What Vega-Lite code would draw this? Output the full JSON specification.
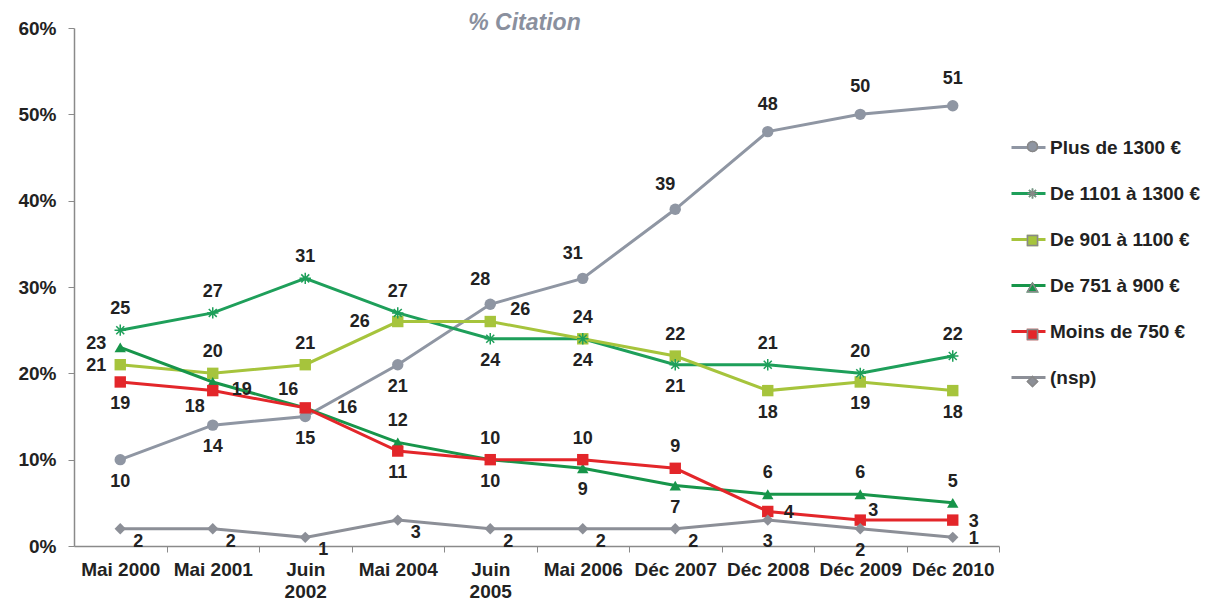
{
  "$schema": "https://vega.github.io/schema/vega-lite/v6.json",
  "width": 925,
  "height": 518,
  "autosize": "none",
  "padding": {"left": 74, "top": 28, "right": 215, "bottom": 58},
  "background": "white",
  "config": {"font": "Liberation Sans", "view": {"stroke": null}},
  "title": {"text": "% Citation", "fontStyle": "italic", "fontWeight": "bold", "fontSize": 23, "color": "#8a909e", "anchor": "middle", "frame": "group", "offset": -16, "dx": -12},
  "data": {"values": [
    {"date": "Mai 2000", "serie": "Plus de 1300 €", "value": 10},
    {"date": "Mai 2001", "serie": "Plus de 1300 €", "value": 14},
    {"date": "Juin 2002", "serie": "Plus de 1300 €", "value": 15},
    {"date": "Mai 2004", "serie": "Plus de 1300 €", "value": 21},
    {"date": "Juin 2005", "serie": "Plus de 1300 €", "value": 28},
    {"date": "Mai 2006", "serie": "Plus de 1300 €", "value": 31},
    {"date": "Déc 2007", "serie": "Plus de 1300 €", "value": 39},
    {"date": "Déc 2008", "serie": "Plus de 1300 €", "value": 48},
    {"date": "Déc 2009", "serie": "Plus de 1300 €", "value": 50},
    {"date": "Déc 2010", "serie": "Plus de 1300 €", "value": 51},
    {"date": "Mai 2000", "serie": "De 1101 à 1300 €", "value": 25},
    {"date": "Mai 2001", "serie": "De 1101 à 1300 €", "value": 27},
    {"date": "Juin 2002", "serie": "De 1101 à 1300 €", "value": 31},
    {"date": "Mai 2004", "serie": "De 1101 à 1300 €", "value": 27},
    {"date": "Juin 2005", "serie": "De 1101 à 1300 €", "value": 24},
    {"date": "Mai 2006", "serie": "De 1101 à 1300 €", "value": 24},
    {"date": "Déc 2007", "serie": "De 1101 à 1300 €", "value": 21},
    {"date": "Déc 2008", "serie": "De 1101 à 1300 €", "value": 21},
    {"date": "Déc 2009", "serie": "De 1101 à 1300 €", "value": 20},
    {"date": "Déc 2010", "serie": "De 1101 à 1300 €", "value": 22},
    {"date": "Mai 2000", "serie": "De 901 à 1100 €", "value": 21},
    {"date": "Mai 2001", "serie": "De 901 à 1100 €", "value": 20},
    {"date": "Juin 2002", "serie": "De 901 à 1100 €", "value": 21},
    {"date": "Mai 2004", "serie": "De 901 à 1100 €", "value": 26},
    {"date": "Juin 2005", "serie": "De 901 à 1100 €", "value": 26},
    {"date": "Mai 2006", "serie": "De 901 à 1100 €", "value": 24},
    {"date": "Déc 2007", "serie": "De 901 à 1100 €", "value": 22},
    {"date": "Déc 2008", "serie": "De 901 à 1100 €", "value": 18},
    {"date": "Déc 2009", "serie": "De 901 à 1100 €", "value": 19},
    {"date": "Déc 2010", "serie": "De 901 à 1100 €", "value": 18},
    {"date": "Mai 2000", "serie": "De 751 à 900 €", "value": 23},
    {"date": "Mai 2001", "serie": "De 751 à 900 €", "value": 19},
    {"date": "Juin 2002", "serie": "De 751 à 900 €", "value": 16},
    {"date": "Mai 2004", "serie": "De 751 à 900 €", "value": 12},
    {"date": "Juin 2005", "serie": "De 751 à 900 €", "value": 10},
    {"date": "Mai 2006", "serie": "De 751 à 900 €", "value": 9},
    {"date": "Déc 2007", "serie": "De 751 à 900 €", "value": 7},
    {"date": "Déc 2008", "serie": "De 751 à 900 €", "value": 6},
    {"date": "Déc 2009", "serie": "De 751 à 900 €", "value": 6},
    {"date": "Déc 2010", "serie": "De 751 à 900 €", "value": 5},
    {"date": "Mai 2000", "serie": "Moins de 750 €", "value": 19},
    {"date": "Mai 2001", "serie": "Moins de 750 €", "value": 18},
    {"date": "Juin 2002", "serie": "Moins de 750 €", "value": 16},
    {"date": "Mai 2004", "serie": "Moins de 750 €", "value": 11},
    {"date": "Juin 2005", "serie": "Moins de 750 €", "value": 10},
    {"date": "Mai 2006", "serie": "Moins de 750 €", "value": 10},
    {"date": "Déc 2007", "serie": "Moins de 750 €", "value": 9},
    {"date": "Déc 2008", "serie": "Moins de 750 €", "value": 4},
    {"date": "Déc 2009", "serie": "Moins de 750 €", "value": 3},
    {"date": "Déc 2010", "serie": "Moins de 750 €", "value": 3},
    {"date": "Mai 2000", "serie": "(nsp)", "value": 2},
    {"date": "Mai 2001", "serie": "(nsp)", "value": 2},
    {"date": "Juin 2002", "serie": "(nsp)", "value": 1},
    {"date": "Mai 2004", "serie": "(nsp)", "value": 3},
    {"date": "Juin 2005", "serie": "(nsp)", "value": 2},
    {"date": "Mai 2006", "serie": "(nsp)", "value": 2},
    {"date": "Déc 2007", "serie": "(nsp)", "value": 2},
    {"date": "Déc 2008", "serie": "(nsp)", "value": 3},
    {"date": "Déc 2009", "serie": "(nsp)", "value": 2},
    {"date": "Déc 2010", "serie": "(nsp)", "value": 1}
  ]},
  "encoding": {
    "x": {"field": "date", "type": "ordinal",
      "sort": ["Mai 2000", "Mai 2001", "Juin 2002", "Mai 2004", "Juin 2005", "Mai 2006", "Déc 2007", "Déc 2008", "Déc 2009", "Déc 2010"],
      "scale": {"type": "point", "padding": 0.5},
      "axis": {"title": null, "labelAngle": 0, "labelFontSize": 19, "labelFontWeight": "bold", "labelColor": "#222222",
        "domainColor": "#8a8a8a", "domainWidth": 1.5, "tickColor": "#8a8a8a", "tickSize": 6, "tickOffset": 46.25, "labelOffset": -46.25,
        "labelPadding": 8, "labelLineHeight": 22, "labelBaseline": "top",
        "labelExpr": "indexof(datum.label, 'Juin') == 0 ? split(datum.label, ' ') : datum.label"}},
    "y": {"field": "value", "type": "quantitative",
      "scale": {"domain": [0, 60], "nice": false, "zero": true},
      "axis": {"title": null, "values": [0, 10, 20, 30, 40, 50, 60], "labelExpr": "datum.value + '%'", "grid": false,
        "labelFontSize": 19, "labelFontWeight": "bold", "labelColor": "#222222", "domainColor": "#8a8a8a", "domainWidth": 1.5,
        "tickColor": "#8a8a8a", "tickSize": 6, "labelPadding": 12}}
  },
  "layer": [
    {"mark": {"type": "line", "strokeWidth": 3},
     "encoding": {"stroke": {"field": "serie", "type": "nominal",
       "scale": {"domain": ["Plus de 1300 €", "De 1101 à 1300 €", "De 901 à 1100 €", "De 751 à 900 €", "Moins de 750 €", "(nsp)"],
                 "range": ["#8f96a3", "#1e9f5a", "#a6c43c", "#17954a", "#e3262a", "#8c8f97"]},
       "legend": {"title": null, "orient": "right", "offset": -90, "padding": 101, "symbolType": "stroke", "symbolSize": 1156, "symbolStrokeWidth": 3,
                  "labelFontSize": 19, "labelFontWeight": "bold", "labelColor": "#222222", "rowPadding": 17, "labelOffset": 3}}}},
    {"transform": [{"filter": "datum.serie != 'De 1101 à 1300 €'"}],
     "mark": {"type": "point", "filled": true, "size": 130, "opacity": 1},
     "encoding": {
       "color": {"field": "serie", "type": "nominal",
         "scale": {"domain": ["Plus de 1300 €", "De 1101 à 1300 €", "De 901 à 1100 €", "De 751 à 900 €", "Moins de 750 €", "(nsp)"],
                   "range": ["#8f96a3", "#1e9f5a", "#a6c43c", "#17954a", "#e3262a", "#8c8f97"]},
         "legend": {"title": null, "orient": "none", "legendX": 949, "legendY": 109, "labelExpr": "''", "labelFontSize": 19, "rowPadding": 27, "symbolSize": 100, "symbolFillColor": "transparent", "symbolStrokeWidth": 1.5}},
       "shape": {"field": "serie", "type": "nominal",
         "scale": {"domain": ["Plus de 1300 €", "De 1101 à 1300 €", "De 901 à 1100 €", "De 751 à 900 €", "Moins de 750 €", "(nsp)"],
                   "range": ["circle", "M-1,0L1,0M0,-1L0,1M-0.7,-0.7L0.7,0.7M-0.7,0.7L0.7,-0.7", "square", "triangle-up", "square", "diamond"]},
         "legend": {"title": null, "orient": "none", "legendX": 949, "legendY": 109, "labelExpr": "''", "labelFontSize": 19, "rowPadding": 27, "symbolSize": 100, "symbolFillColor": "transparent", "symbolStrokeWidth": 1.5}}
     }},
    {"transform": [{"filter": "datum.serie == 'De 1101 à 1300 €'"}],
     "mark": {"type": "point", "filled": false, "size": 130, "strokeWidth": 1.5, "opacity": 1},
     "encoding": {
       "color": {"field": "serie", "type": "nominal"},
       "shape": {"field": "serie", "type": "nominal"}
     }},
    {"transform": [{"filter": "indexof(['Plus de 1300 €|Juin 2005','Plus de 1300 €|Mai 2006','Plus de 1300 €|Déc 2007'], datum.serie + '|' + datum.date) >= 0"}],
     "mark": {"type": "text", "dx": -10, "dy": -24, "fontSize": 18, "fontWeight": "bold", "color": "#222222"},
     "encoding": {"text": {"field": "value", "type": "quantitative"}}},
    {"transform": [{"filter": "indexof(['Plus de 1300 €|Déc 2008','Plus de 1300 €|Déc 2009','Plus de 1300 €|Déc 2010'], datum.serie + '|' + datum.date) >= 0"}],
     "mark": {"type": "text", "dx": 0, "dy": -27, "fontSize": 18, "fontWeight": "bold", "color": "#222222"},
     "encoding": {"text": {"field": "value", "type": "quantitative"}}},
    {"transform": [{"filter": "indexof(['De 1101 à 1300 €|Mai 2000','De 1101 à 1300 €|Mai 2001','De 1101 à 1300 €|Juin 2002','De 1101 à 1300 €|Mai 2004','De 1101 à 1300 €|Déc 2008','De 1101 à 1300 €|Déc 2009','De 1101 à 1300 €|Déc 2010','De 901 à 1100 €|Mai 2001','De 901 à 1100 €|Juin 2002','De 901 à 1100 €|Mai 2006','De 901 à 1100 €|Déc 2007','De 751 à 900 €|Mai 2004','De 751 à 900 €|Déc 2008','De 751 à 900 €|Déc 2009','De 751 à 900 €|Déc 2010','Moins de 750 €|Juin 2005','Moins de 750 €|Mai 2006','Moins de 750 €|Déc 2007'], datum.serie + '|' + datum.date) >= 0"}],
     "mark": {"type": "text", "dx": 0, "dy": -21, "fontSize": 18, "fontWeight": "bold", "color": "#222222"},
     "encoding": {"text": {"field": "value", "type": "quantitative"}}},
    {"transform": [{"filter": "indexof(['Plus de 1300 €|Mai 2000','Plus de 1300 €|Mai 2001','Plus de 1300 €|Juin 2002','Plus de 1300 €|Mai 2004','De 1101 à 1300 €|Juin 2005','De 1101 à 1300 €|Mai 2006','De 1101 à 1300 €|Déc 2007','De 901 à 1100 €|Déc 2008','De 901 à 1100 €|Déc 2009','De 901 à 1100 €|Déc 2010','De 751 à 900 €|Juin 2005','De 751 à 900 €|Mai 2006','De 751 à 900 €|Déc 2007','Moins de 750 €|Mai 2000','Moins de 750 €|Mai 2004','(nsp)|Déc 2008','(nsp)|Déc 2009'], datum.serie + '|' + datum.date) >= 0"}],
     "mark": {"type": "text", "dx": 0, "dy": 22, "fontSize": 18, "fontWeight": "bold", "color": "#222222"},
     "encoding": {"text": {"field": "value", "type": "quantitative"}}},
    {"transform": [{"filter": "datum.serie == 'De 901 à 1100 €' && datum.date == 'Mai 2000'"}],
     "mark": {"type": "text", "dx": -24, "dy": 1, "fontSize": 18, "fontWeight": "bold", "color": "#222222"},
     "encoding": {"text": {"field": "value", "type": "quantitative"}}},
    {"transform": [{"filter": "datum.serie == 'De 751 à 900 €' && datum.date == 'Mai 2000'"}],
     "mark": {"type": "text", "dx": -24, "dy": -3, "fontSize": 18, "fontWeight": "bold", "color": "#222222"},
     "encoding": {"text": {"field": "value", "type": "quantitative"}}},
    {"transform": [{"filter": "datum.serie == 'De 901 à 1100 €' && datum.date == 'Mai 2004'"}],
     "mark": {"type": "text", "dx": -38, "dy": 0, "fontSize": 18, "fontWeight": "bold", "color": "#222222"},
     "encoding": {"text": {"field": "value", "type": "quantitative"}}},
    {"transform": [{"filter": "datum.serie == 'De 751 à 900 €' && datum.date == 'Juin 2002'"}],
     "mark": {"type": "text", "dx": -17, "dy": -18, "fontSize": 18, "fontWeight": "bold", "color": "#222222"},
     "encoding": {"text": {"field": "value", "type": "quantitative"}}},
    {"transform": [{"filter": "datum.serie == 'Moins de 750 €' && datum.date == 'Mai 2001'"}],
     "mark": {"type": "text", "dx": -18, "dy": 16, "fontSize": 18, "fontWeight": "bold", "color": "#222222"},
     "encoding": {"text": {"field": "value", "type": "quantitative"}}},
    {"transform": [{"filter": "indexof(['Moins de 750 €|Déc 2008','Moins de 750 €|Déc 2010','(nsp)|Déc 2010'], datum.serie + '|' + datum.date) >= 0"}],
     "mark": {"type": "text", "dx": 21, "dy": 2, "fontSize": 18, "fontWeight": "bold", "color": "#222222"},
     "encoding": {"text": {"field": "value", "type": "quantitative"}}},
    {"transform": [{"filter": "datum.serie == 'De 901 à 1100 €' && datum.date == 'Juin 2005'"}],
     "mark": {"type": "text", "dx": 30, "dy": -12, "fontSize": 18, "fontWeight": "bold", "color": "#222222"},
     "encoding": {"text": {"field": "value", "type": "quantitative"}}},
    {"transform": [{"filter": "datum.serie == 'De 751 à 900 €' && datum.date == 'Mai 2001'"}],
     "mark": {"type": "text", "dx": 29, "dy": 8, "fontSize": 18, "fontWeight": "bold", "color": "#222222"},
     "encoding": {"text": {"field": "value", "type": "quantitative"}}},
    {"transform": [{"filter": "datum.serie == 'Moins de 750 €' && datum.date == 'Juin 2002'"}],
     "mark": {"type": "text", "dx": 42, "dy": 0, "fontSize": 18, "fontWeight": "bold", "color": "#222222"},
     "encoding": {"text": {"field": "value", "type": "quantitative"}}},
    {"transform": [{"filter": "datum.serie == 'Moins de 750 €' && datum.date == 'Déc 2009'"}],
     "mark": {"type": "text", "dx": 13, "dy": -9, "fontSize": 18, "fontWeight": "bold", "color": "#222222"},
     "encoding": {"text": {"field": "value", "type": "quantitative"}}},
    {"transform": [{"filter": "datum.serie == '(nsp)' && indexof(['Déc 2008','Déc 2009','Déc 2010'], datum.date) < 0"}],
     "mark": {"type": "text", "dx": 18, "dy": 13, "fontSize": 18, "fontWeight": "bold", "color": "#222222"},
     "encoding": {"text": {"field": "value", "type": "quantitative"}}}
  ]
}
